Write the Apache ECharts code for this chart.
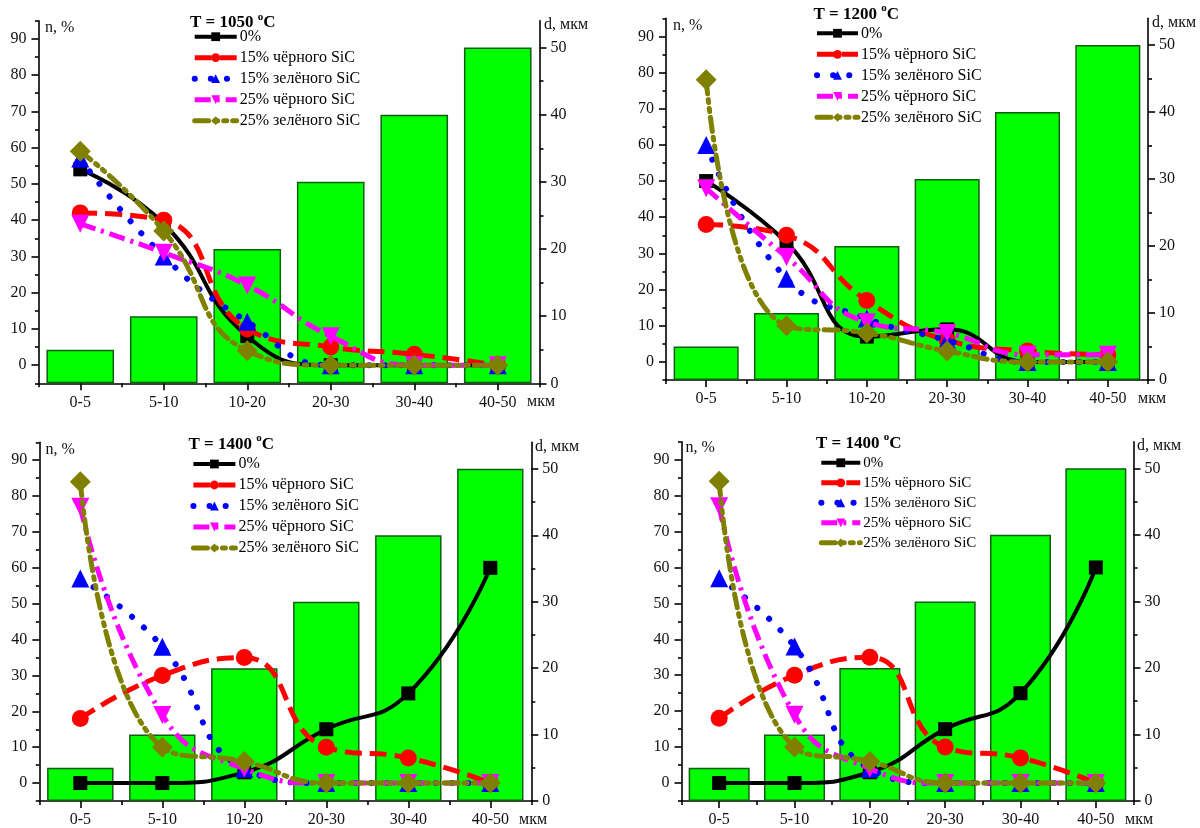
<!DOCTYPE html>
<html>
<head>
<meta charset="utf-8">
<script src="https://cdn.jsdelivr.net/npm/echarts@6/dist/echarts.min.js"></script>
<style>
html,body{margin:0;padding:0;background:#fff;}
#chart{width:1200px;height:828px;}
</style>
</head>
<body>
<div id="chart"></div>
<script>
// ---------------- DATA ----------------
const categories = ['0-5', '5-10', '10-20', '20-30', '30-40', '40-50'];
const grainSize = [5, 10, 20, 30, 40, 50]; // d, мкм (bars, right axis)
const seriesNames = ['0%', '15% чёрного SiC', '15% зелёного SiC', '25% чёрного SiC', '25% зелёного SiC'];
const panelTemps = ['1050', '1200', '1400', '1400'];

// T = 1050 °C
const t1050_0 = [54, 39, 8, 0, 0, 0];
const t1050_b15 = [42, 40, 10, 5, 3, 0];
const t1050_g15 = [57, 30, 12, 0, 0, 0];
const t1050_b25 = [39, 31, 22, 8, 0, 0];
const t1050_g25 = [59, 37, 4, 0, 0, 0];
// T = 1200 °C
const t1200_0 = [50, 33, 7, 9, 0, 0];
const t1200_b15 = [38, 35, 17, 6, 3, 2];
const t1200_g15 = [60, 23, 12, 6, 0, 0];
const t1200_b25 = [48, 29, 11, 8, 2, 2];
const t1200_g25 = [78, 10, 8, 3, 0, 0];
// T = 1400 °C
const t1400_0 = [0, 0, 3, 15, 25, 60];
const t1400_b15 = [18, 30, 35, 10, 7, 0];
const t1400_g15 = [57, 38, 4, 0, 0, 0];
const t1400_b25 = [77, 19, 4, 0, 0, 0];
const t1400_g25 = [84, 10, 6, 0, 0, 0];

// axis tick labels
const nTicks = [0, 10, 20, 30, 40, 50, 60, 70, 80, 90];
const nMinorTicks = [-5, 5, 15, 25, 35, 45, 55, 65, 75, 85, 95];
const dTicks = [0, 10, 20, 30, 40, 50];
const dMinorTicks = [5, 15, 25, 35, 45];

const panelData = [
  [t1050_0, t1050_b15, t1050_g15, t1050_b25, t1050_g25],
  [t1200_0, t1200_b15, t1200_g15, t1200_b25, t1200_g25],
  [t1400_0, t1400_b15, t1400_g15, t1400_b25, t1400_g25],
  [t1400_0, t1400_b15, t1400_g15, t1400_b25, t1400_g25]
];

// ---------------- STYLE / LAYOUT ----------------
const FONT = 'Liberation Serif';
const layout = [
  {left: 38.5, top: 20.7, width: 501, height: 362.6, title: [190, 21.3], legend: [191.7, 28.7], itemW: 42, fs: 16, nLbl: [45, 29], dLbl: [544, 26], mkm: [527, 403]},
  {left: 666, top: 18.3, width: 482, height: 361.7, title: [813.5, 12.7], legend: [814, 25.3], itemW: 41, fs: 16, nLbl: [673, 26.7], dLbl: [1152, 23.3], mkm: [1138, 400]},
  {left: 39.3, top: 442.3, width: 492, height: 360, title: [188.5, 443], legend: [190.4, 456], itemW: 42, fs: 16, nLbl: [45.4, 450.7], dLbl: [535, 447.3], mkm: [519, 821]},
  {left: 681.5, top: 441.7, width: 452, height: 360, title: [816, 441.7], legend: [818.3, 455.3], itemW: 39, fs: 15, nLbl: [685.4, 449], dLbl: [1137, 446.5], mkm: [1125, 821]}
];

const lineStyles = [
  {color: '#000000', symbol: 'rect', size: 14, lineStyle: {width: 4, type: 'solid'}},
  {color: '#ff0000', symbol: 'circle', size: 17, lineStyle: {width: 5, type: [17, 8]}},
  {color: '#0000ff', symbol: 'triangle', size: 18, lineStyle: {width: 6, type: [0.1, 16], cap: 'round'}},
  {color: '#ff00ff', symbol: 'path://M0,0L2,0L1,1.75Z', size: 18, lineStyle: {width: 5, type: [16, 6, 3, 6]}},
  {color: '#808000', symbol: 'diamond', size: 21, lineStyle: {width: 5, type: [14, 6, 3, 6, 3, 6], cap: 'round'}}
];

const axisTxt = {color: '#111', fontFamily: FONT, fontSize: 16};
const axisLineStyle = {color: '#000', width: 1.6};

const grid = [], xAxis = [], yAxis = [], series = [], legend = [], graphic = [];

layout.forEach((L, g) => {
  grid.push({left: L.left, top: L.top, width: L.width, height: L.height, containLabel: false});
  // x axis: boundary ticks + line
  xAxis.push({
    type: 'category', gridIndex: g, data: categories, position: 'bottom',
    axisLine: {show: true, onZero: false, lineStyle: axisLineStyle},
    axisTick: {show: true, alignWithLabel: false, length: 4, lineStyle: axisLineStyle},
    axisLabel: {show: false}, splitLine: {show: false}
  });
  // x axis: centre ticks + labels
  xAxis.push({
    type: 'category', gridIndex: g, data: categories, position: 'bottom',
    axisLine: {show: false, onZero: false},
    axisTick: {show: true, alignWithLabel: true, length: 7, lineStyle: axisLineStyle},
    axisLabel: Object.assign({margin: 11, interval: 0}, axisTxt), splitLine: {show: false}
  });
  // left major
  yAxis.push({
    type: 'value', gridIndex: g, position: 'left', min: -5, max: 95,
    axisLine: {show: true, onZero: false, lineStyle: axisLineStyle},
    axisTick: {show: true, length: 7, customValues: nTicks, lineStyle: axisLineStyle},
    axisLabel: Object.assign({margin: 12, customValues: nTicks}, axisTxt),
    splitLine: {show: false}
  });
  // left minor
  yAxis.push({
    type: 'value', gridIndex: g, position: 'left', min: -5, max: 95,
    axisLine: {show: false, onZero: false},
    axisTick: {show: true, length: 3.5, customValues: nMinorTicks, lineStyle: axisLineStyle},
    axisLabel: {show: false}, splitLine: {show: false}
  });
  // right major
  yAxis.push({
    type: 'value', gridIndex: g, position: 'right', min: 0, max: 54,
    axisLine: {show: true, onZero: false, lineStyle: axisLineStyle},
    axisTick: {show: true, length: 7, customValues: dTicks, lineStyle: axisLineStyle},
    axisLabel: Object.assign({margin: 11, customValues: dTicks}, axisTxt),
    splitLine: {show: false}
  });
  // right minor
  yAxis.push({
    type: 'value', gridIndex: g, position: 'right', min: 0, max: 54,
    axisLine: {show: false, onZero: false},
    axisTick: {show: true, length: 4, customValues: dMinorTicks, lineStyle: axisLineStyle},
    axisLabel: {show: false}, splitLine: {show: false}
  });

  series.push({
    type: 'bar', name: 'd', xAxisIndex: 2 * g + 1, yAxisIndex: 4 * g + 2,
    data: grainSize, barCategoryGap: '19%', z: 1,
    itemStyle: {color: '#00ff00', borderColor: '#0f5f0f', borderWidth: 1.5},
    silent: true
  });

  panelData[g].forEach((vals, k) => {
    const s = lineStyles[k];
    series.push({
      type: 'line', name: seriesNames[k], xAxisIndex: 2 * g + 1, yAxisIndex: 4 * g,
      data: vals, smooth: 0.5, z: 3 + k,
      symbol: s.symbol, symbolSize: s.size, showAllSymbol: true,
      itemStyle: {color: s.color},
      lineStyle: Object.assign({color: s.color}, s.lineStyle),
      animation: false
    });
  });

  legend.push({
    orient: 'vertical', left: L.legend[0], top: L.legend[1], padding: 0,
    data: seriesNames, itemWidth: L.itemW, itemHeight: 11, itemGap: 5,
    lineStyle: {width: 'inherit'},
    textStyle: {fontFamily: FONT, fontSize: L.fs, color: '#000', padding: [0, 0, 0, -2]},
    selectedMode: false
  });

  graphic.push({
    type: 'text', left: L.title[0], top: L.title[1] - 10,
    style: {
      text: '{a|T = ' + panelTemps[g] + ' }{s|o}{a|C}',
      rich: {
        a: {fontFamily: FONT, fontSize: 17, fontWeight: 'bold', fill: '#000', lineHeight: 20, verticalAlign: 'bottom'},
        s: {fontFamily: FONT, fontSize: 11, fontWeight: 'bold', fill: '#000', lineHeight: 20, verticalAlign: 'top'}
      }
    }
  });
  graphic.push({type: 'text', left: L.nLbl[0], top: L.nLbl[1] - 9,
    style: {text: 'n, %', fontFamily: FONT, fontSize: 16, fill: '#111'}});
  graphic.push({type: 'text', left: L.dLbl[0], top: L.dLbl[1] - 9,
    style: {text: 'd, мкм', fontFamily: FONT, fontSize: 16, fill: '#111'}});
  graphic.push({type: 'text', left: L.mkm[0], top: L.mkm[1] - 9,
    style: {text: 'мкм', fontFamily: FONT, fontSize: 16, fill: '#111'}});
});

const chart = echarts.init(document.getElementById('chart'), null, {renderer: 'canvas'});
chart.setOption({
  animation: false,
  backgroundColor: '#fff',
  grid, xAxis, yAxis, series, legend, graphic
});
</script>
</body>
</html>
